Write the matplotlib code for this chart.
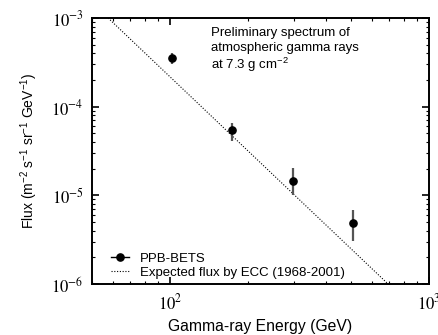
import matplotlib
matplotlib.use('Agg')
import matplotlib.pyplot as plt
from matplotlib.lines import Line2D
from matplotlib.ticker import LogLocator, NullFormatter, FuncFormatter
import numpy as np

plt.rcParams['font.family'] = ['Liberation Sans', 'DejaVu Sans']
plt.rcParams['mathtext.fontset'] = 'stix'
plt.rcParams['mathtext.rm'] = 'Liberation Sans'
plt.rcParams['mathtext.it'] = 'Liberation Sans:italic'
plt.rcParams['mathtext.bf'] = 'Liberation Sans:bold'

# --- data ---
energy = [102, 173, 298, 507]               # GeV
flux = [3.5e-4, 5.4e-5, 1.45e-5, 4.9e-6]
flux_hi = [4.05e-4, 6.6e-5, 2.05e-5, 6.9e-6]
flux_lo = [3.0e-4, 4.1e-5, 1.0e-5, 3.05e-6]

# expected ECC power law, two end points of the straight line (log-log)
ecc_energy = [57.7, 695]
ecc_flux = [1e-3, 1e-6]

note_lines = ['Preliminary spectrum of', 'atmospheric gamma rays', 'at 7.3 g cm$^{-2}$']

err_lo = [f - l for f, l in zip(flux, flux_lo)]
err_hi = [h - f for f, h in zip(flux, flux_hi)]

fig = plt.figure(figsize=(4.39, 3.35), dpi=100)
ax = fig.add_axes([92 / 439, 51 / 335, 337 / 439, 266 / 335])

ax.plot(ecc_energy, ecc_flux, color='black', ls=(0, (1, 1.5)), lw=0.8)
ax.errorbar(energy, flux, yerr=[err_lo, err_hi], fmt='none', ecolor='#555555',
            elinewidth=1.6, capsize=0)
ax.plot(energy, flux, 'o', color='black', ms=5.2)

ax.set_xscale('log')
ax.set_yscale('log')
ax.set_xlim(50, 1000)
ax.set_ylim(1e-6, 1e-3)

pow_fmt = FuncFormatter(lambda v, p: r'$10^{%d}$' % int(round(np.log10(v))))
ax.xaxis.set_major_formatter(pow_fmt)
ax.yaxis.set_major_formatter(pow_fmt)
ax.xaxis.set_minor_locator(LogLocator(base=10, subs=range(2, 10)))
ax.yaxis.set_minor_locator(LogLocator(base=10, subs=range(2, 10)))
ax.xaxis.set_minor_formatter(NullFormatter())
ax.yaxis.set_minor_formatter(NullFormatter())
ax.tick_params(which='both', direction='in', top=True, right=True)
ax.tick_params(which='major', length=5, width=1.2, labelsize=12, pad=6)
ax.tick_params(which='minor', length=2.5, width=0.8)
for s in ax.spines.values():
    s.set_linewidth(1.4)

ax.set_xlabel('Gamma-ray Energy (GeV)', fontsize=11.3, labelpad=5)
ax.set_ylabel(r'Flux (m$^{-2}$ s$^{-1}$ sr$^{-1}$ GeV$^{-1}$)', fontsize=10,
              labelpad=8, math_fontfamily='custom')

# note, one line at a time so the spacing stays even
for i, line in enumerate(note_lines):
    ax.annotate(line, xy=(0.352, 0.965), xycoords='axes fraction',
                xytext=(0, -10.3 * i), textcoords='offset points',
                fontsize=9.5, va='top', ha='left', math_fontfamily='custom')

handles = [Line2D([], [], color='black', marker='o', ms=5.2, lw=1),
           Line2D([], [], color='black', ls=(0, (1, 1.5)), lw=0.8)]
ax.legend(handles, ['PPB-BETS', 'Expected flux by ECC (1968-2001)'], loc='lower left',
          frameon=False, fontsize=9.5, handlelength=1.4, handletextpad=0.8,
          labelspacing=0.15, borderaxespad=0.0, bbox_to_anchor=(0.04, 0.0))

fig.savefig('out.png', dpi=100)
